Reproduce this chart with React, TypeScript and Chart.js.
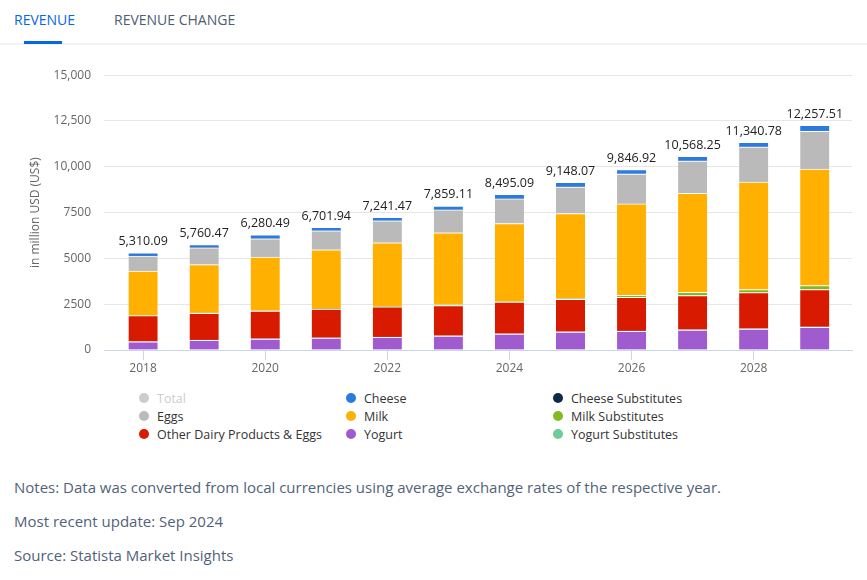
import React, { useEffect, useRef } from "react";
import { Chart, registerables } from "chart.js";

Chart.register(...registerables);

const years = [2018, 2019, 2020, 2021, 2022, 2023, 2024, 2025, 2026, 2027, 2028, 2029];
const totals = [5310.09, 5760.47, 6280.49, 6701.94, 7241.47, 7859.11, 8495.09, 9148.07, 9846.92, 10568.25, 11340.78, 12257.51];
const yogurt = [451, 527, 598, 652, 690, 761, 870, 978, 1016, 1087, 1141, 1232];
const yogurtSubstitutes = [8, 9, 11, 12, 13, 15, 17, 18, 20, 22, 24, 26];
const otherDairy = [1413, 1468, 1522, 1576, 1650, 1653, 1722, 1776, 1844, 1864, 1971, 2039];
const milkSubstitutes = [15, 20, 25, 30, 40, 81, 45, 50, 109, 179, 163, 219];
const milk = [2423, 2634, 2915, 3203, 3460, 3887, 4248, 4624, 4984, 5397, 5869, 6359];
const eggs = [815, 924, 1000, 1032, 1196, 1250, 1343, 1451, 1630, 1761, 1903, 2065];
const cheeseSubstitutes = [4, 5, 6, 6, 7, 8, 9, 10, 11, 12, 13, 15];
const cheese = [181, 173, 203, 191, 185, 204, 241, 241, 233, 246, 257, 303];

const yTicks = [0, 2500, 5000, 7500, 10000, 12500, 15000];
const xTickYears = [2018, 2020, 2022, 2024, 2026, 2028];

const seriesLabels = {
  total: "Total",
  cheese: "Cheese",
  cheeseSubs: "Cheese Substitutes",
  eggs: "Eggs",
  milk: "Milk",
  milkSubs: "Milk Substitutes",
  other: "Other Dairy Products & Eggs",
  yogurt: "Yogurt",
  yogurtSubs: "Yogurt Substitutes",
};

const colors = {
  total: "#cccccc",
  cheese: "#2a7be0",
  cheeseSubs: "#0f2a47",
  eggs: "#bababa",
  milk: "#ffb000",
  milkSubs: "#84b921",
  other: "#d81b00",
  yogurt: "#a05bcf",
  yogurtSubs: "#6fcb99",
};

const legendOrder = ["total", "cheese", "cheeseSubs", "eggs", "milk", "milkSubs", "other", "yogurt", "yogurtSubs"];

const FONT = "'Open Sans', 'Noto Sans', sans-serif";

const fmtTotal = (v: number) =>
  v.toLocaleString("en-US", { minimumFractionDigits: 2, maximumFractionDigits: 2 });

const totalLabels = {
  id: "totalLabels",
  afterDatasetsDraw(chart: any) {
    const { ctx, scales } = chart;
    const x = scales.x;
    const y = scales.y;
    ctx.save();
    ctx.font = `12.5px ${FONT}`;
    ctx.fillStyle = "#222222";
    ctx.textAlign = "center";
    ctx.textBaseline = "bottom";
    totals.forEach((t, i) => {
      ctx.fillText(fmtTotal(t), x.getPixelForValue(years[i]), y.getPixelForValue(t) - 5);
    });
    ctx.restore();
  },
};

function series(key: keyof typeof colors, values: number[]) {
  return {
    label: seriesLabels[key],
    data: years.map((yr, i) => ({ x: yr, y: values[i] })),
    backgroundColor: colors[key],
    borderColor: "#ffffff",
    borderWidth: { top: 1, left: 0, right: 0, bottom: 0 },
    borderSkipped: false,
    barThickness: 29,
  };
}

function ChartView() {
  const ref = useRef<HTMLCanvasElement | null>(null);
  useEffect(() => {
    if (!ref.current) return;
    const chart = new Chart(ref.current, {
      type: "bar",
      data: {
        datasets: [
          series("yogurt", yogurt),
          series("yogurtSubs", yogurtSubstitutes),
          series("other", otherDairy),
          series("milkSubs", milkSubstitutes),
          series("milk", milk),
          series("eggs", eggs),
          series("cheeseSubs", cheeseSubstitutes),
          series("cheese", cheese),
        ] as any,
      },
      options: {
        animation: false,
        responsive: false,
        devicePixelRatio: 1,
        layout: { padding: { top: 19, right: 15, left: 0, bottom: 0 } },
        plugins: { legend: { display: false }, tooltip: { enabled: false } },
        scales: {
          x: {
            type: "linear",
            stacked: true,
            offset: false,
            min: 2017.36,
            max: 2029.61,
            afterFit: (s: any) => {
              s.height = 30;
            },
            afterBuildTicks: (s: any) => {
              s.ticks = xTickYears.map((v) => ({ value: v }));
            },
            grid: {
              offset: false,
              drawOnChartArea: false,
              drawTicks: true,
              tickLength: 10,
              color: "#ccd6eb",
            },
            border: { display: true, color: "#ccd6eb", width: 1 },
            ticks: {
              padding: 1,
              color: "#666666",
              font: { family: FONT, size: 12 },
              maxRotation: 0,
              autoSkip: false,
              callback: (v: any) => String(v),
            },
          },
          y: {
            stacked: true,
            min: 0,
            max: 15000,
            afterFit: (s: any) => {
              s.width = 104;
            },
            afterBuildTicks: (s: any) => {
              s.ticks = yTicks.map((v) => ({ value: v }));
            },
            grid: { color: "#e6e6e6", drawTicks: false },
            border: { display: false },
            ticks: {
              padding: 13,
              color: "#666666",
              font: { family: FONT, size: 12 },
              callback: (v: any) => (Number(v) >= 10000 ? Number(v).toLocaleString("en-US") : String(v)),
            },
            title: {
              display: true,
              text: "in million USD (US$)",
              color: "#666666",
              font: { family: FONT, size: 12 },
              padding: { top: 28, bottom: 0 },
            },
          },
        },
      },
      plugins: [totalLabels],
    });
    return () => chart.destroy();
  }, []);
  return (
    <canvas
      ref={ref}
      width={867}
      height={325}
      style={{ position: "absolute", left: 0, top: 55, width: 867, height: 325, display: "block" }}
    />
  );
}

export default function App() {
  return (
    <div
      style={{
        position: "absolute",
        left: 0,
        top: 0,
        width: 867,
        height: 580,
        background: "#ffffff",
        fontFamily: FONT,
        overflow: "hidden",
      }}
    >
      {/* tabs */}
      <div style={{ position: "absolute", left: 14, top: 10, fontSize: 14, color: "#0666e5", lineHeight: "20px" }}>
        REVENUE
      </div>
      <div style={{ position: "absolute", left: 114, top: 10, fontSize: 14, color: "#4e5d73", lineHeight: "20px" }}>
        REVENUE CHANGE
      </div>
      <div style={{ position: "absolute", left: 0, top: 43, width: 867, height: 2, background: "#f0f3f7" }} />
      <div style={{ position: "absolute", left: 24, top: 41, width: 38, height: 3, background: "#0666e5" }} />

      <ChartView />

      {/* legend */}
      <div
        style={{
          position: "absolute",
          left: 139,
          top: 389,
          display: "grid",
          gridTemplateColumns: "207px 207px 207px",
          gridAutoRows: "18px",
        }}
      >
        {legendOrder.map((k) => {
          const key = k as keyof typeof colors;
          const hidden = key === "total";
          return (
            <div key={k} style={{ display: "flex", alignItems: "center", height: 18 }}>
              <span
                style={{
                  width: 10,
                  height: 10,
                  borderRadius: 5,
                  background: colors[key],
                  display: "inline-block",
                  marginRight: 8,
                  flex: "0 0 auto",
                }}
              />
              <span style={{ fontSize: 12.5, color: hidden ? "#cccccc" : "#333333", whiteSpace: "nowrap" }}>
                {seriesLabels[key]}
              </span>
            </div>
          );
        })}
      </div>

      {/* notes */}
      <div style={{ position: "absolute", left: 14, top: 476, fontSize: 15, color: "#52627a", lineHeight: "22px" }}>
        Notes: Data was converted from local currencies using average exchange rates of the respective year.
      </div>
      <div style={{ position: "absolute", left: 14, top: 510, fontSize: 15, color: "#52627a", lineHeight: "22px" }}>
        Most recent update: Sep 2024
      </div>
      <div style={{ position: "absolute", left: 14, top: 544, fontSize: 15, color: "#52627a", lineHeight: "22px" }}>
        Source: Statista Market Insights
      </div>
    </div>
  );
}
